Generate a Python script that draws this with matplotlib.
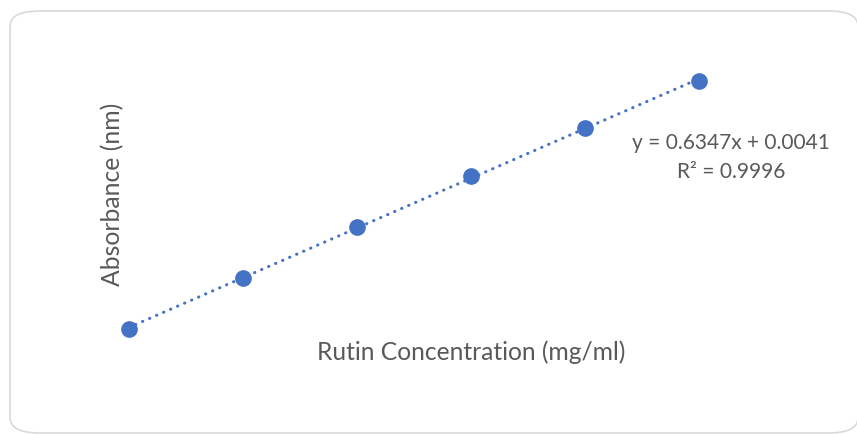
import matplotlib
matplotlib.use('Agg')
import matplotlib.pyplot as plt
import numpy as np
from matplotlib.patches import FancyBboxPatch

# ── Data ──────────────────────────────────────────────────────────────────────
concentration = [0.2, 0.4, 0.6, 0.8, 1.0, 1.2]
absorbance    = [0.127, 0.257, 0.388, 0.518, 0.640, 0.760]
equation_text = "y = 0.6347x + 0.0041"
r2_text       = "R² = 0.9996"

BLUE = '#4472C4'
GREY = '#595959'
plt.rcParams['font.family'] = ['Lato', 'DejaVu Sans']

fig = plt.figure(figsize=(8.57, 4.35), dpi=100)

# rounded chart border (Excel style), kept behind the axes
frame = FancyBboxPatch((10 / 857, 1 - 434 / 435), 848 / 857, 422 / 435,
                       boxstyle='round,pad=0,rounding_size=0.035',
                       transform=fig.transFigure, facecolor='white',
                       edgecolor='#d9d9d9', linewidth=1.2, zorder=-1)
fig.patches.append(frame)

ax = fig.add_axes([0.0834, 0.2168, 0.7988, 0.6306])
ax.set_xlim(0.1, 1.3)
ax.set_ylim(0.1, 0.8)
ax.axis('off')

# linear trendline
slope, intercept = np.polyfit(concentration, absorbance, 1)
xs = np.array([concentration[0], concentration[-1]])
ax.plot(xs, slope * xs + intercept, color=BLUE, linewidth=2.2,
        linestyle=(0, (0.1, 2.4)), dash_capstyle='round', zorder=2)
ax.plot(concentration, absorbance, 'o', color=BLUE, markersize=11, zorder=3)

fig.text(113 / 857, 1 - 194 / 435, 'Absorbance (nm)', rotation=90,
         ha='center', va='center', fontsize=17.8, color=GREY)
fig.text(471 / 857, 1 - 352 / 435, 'Rutin Concentration (mg/ml)',
         ha='center', va='center', fontsize=17.7, color=GREY)
fig.text(731 / 857, 1 - 143 / 435, equation_text,
         ha='center', va='center', fontsize=15, color=GREY)
fig.text(731 / 857, 1 - 172 / 435, r2_text,
         ha='center', va='center', fontsize=15, color=GREY)

plt.savefig('out.png', dpi=100)
plt.close()
